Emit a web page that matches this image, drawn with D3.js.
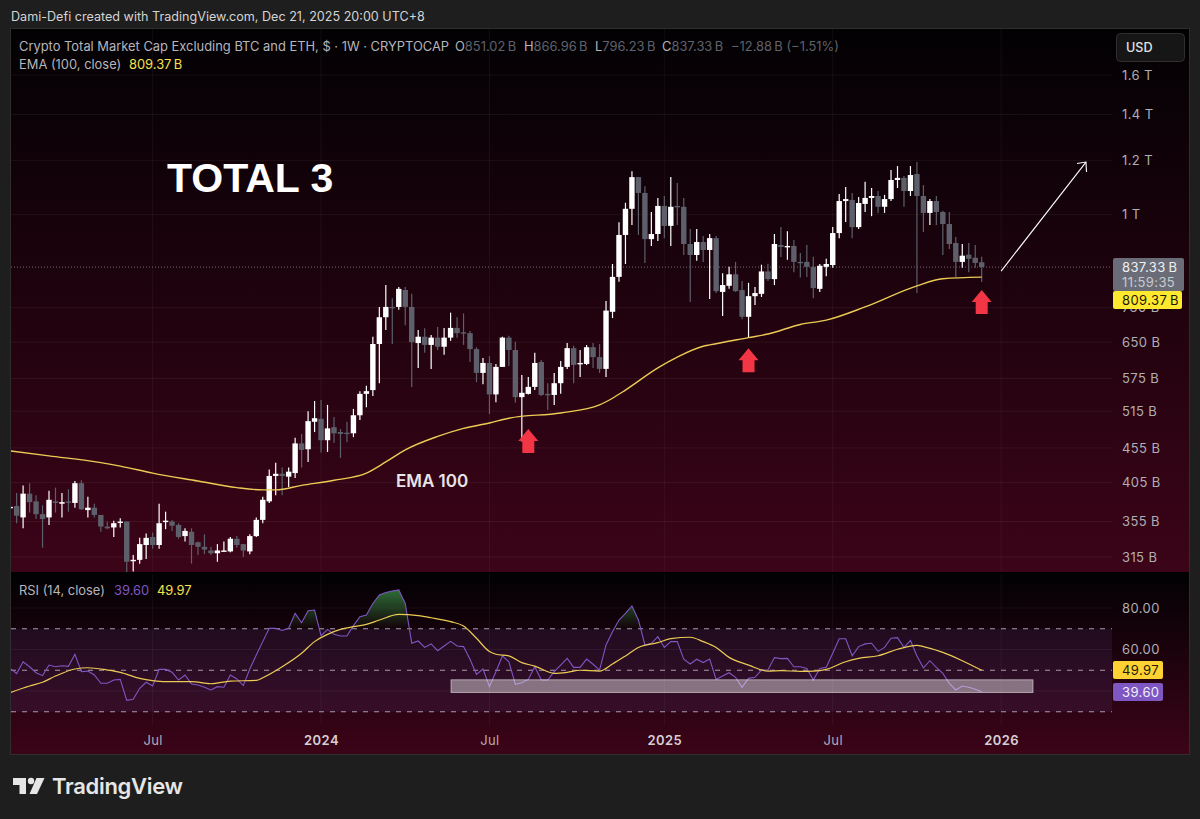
<!DOCTYPE html>
<html>
<head>
<meta charset="utf-8">
<script src="https://cdn.jsdelivr.net/npm/d3@7"></script>
<style>
  html, body { margin: 0; padding: 0; background: #1e1e1e; }
  text { font-family: "Inter", "Liberation Sans", sans-serif; }
  .axis text { font-size: 13px; fill: #b0aeb3; letter-spacing: 0.4px; }
  .axis path, .axis line { display: none; }
</style>
</head>
<body>
<script>
// weekly candles in billions USD, first week is 2023-01-30
var opens = [372,374,360,390,380,364,360,380,377,380,378,404,369,372,363,349,348,354,355,311,312,328,337,328,355,355,351,338,343,331,326,322,319,321,321,335,329,321,338,357,380,414,417,413,418,462,453,497,502,467,488,480,479,478,508,546,553,646,707,732,732,775,732,648,662,644,660,640,660,682,672,670,635,586,606,545,598,660,633,540,546,559,608,546,544,566,598,637,604,604,639,618,594,720,810,933,1019,1134,1075,920,936,1029,962,1029,1026,905,872,911,887,923,770,786,817,775,708,759,765,825,804,902,896,899,852,852,838,778,838,843,939,1046,1050,958,1036,1057,1064,1026,1053,1123,1131,1082,1146,1064,1005,1046,1008,968,908,852,873,864,851.02];
var highs = [391,391,401,404,388,375,394,398,391,396,407,408,386,377,363,355,356,359,355,317,336,341,342,377,367,357,353,347,347,332,340,326,329,332,337,338,329,340,360,386,423,433,426,426,471,477,515,533,535,526,505,485,497,519,551,561,662,732,788,754,783,783,765,677,681,666,684,682,718,707,716,675,639,616,620,604,662,664,651,582,578,627,612,566,586,610,648,642,633,644,648,646,747,846,974,1040,1157,1134,1100,1008,1057,1064,1134,1112,1057,952,952,930,936,930,820,838,852,799,794,783,844,847,936,958,945,917,878,902,867,846,861,958,1071,1097,1075,1060,1116,1093,1082,1068,1161,1177,1138,1177,1193,1104,1053,1064,1012,1008,927,905,908,902,866.96];
var lows = [353,353,347,366,358,325,351,366,360,367,372,369,360,360,343,346,337,348,299,300,308,313,324,324,346,344,335,332,308,317,318,317,310,321,320,325,315,318,337,353,378,388,388,399,411,426,434,480,448,449,463,440,464,472,500,522,542,566,677,646,725,688,559,596,627,594,633,623,653,660,644,608,568,564,510,531,598,600,530,465,545,553,542,517,526,546,594,566,578,602,596,586,578,705,797,846,965,933,849,899,914,923,899,965,872,744,855,852,752,767,710,778,770,702,660,737,757,799,788,866,858,823,808,810,754,770,812,835,923,975,923,952,1008,994,1005,1005,1046,1093,1026,1064,767,942,965,965,872,890,810,835,823,835,796.23];
var closes = [373,362,390,379,364,358,382,378,379,379,404,370,372,363,349,347,353,355,310,312,329,336,328,353,356,350,337,344,328,326,323,319,322,322,335,328,322,338,357,382,414,417,414,420,462,452,498,503,467,486,478,477,478,508,546,551,646,707,732,730,778,732,650,662,644,660,640,660,682,670,670,635,586,606,545,598,660,633,540,548,559,606,544,544,566,598,637,602,606,639,618,594,723,810,933,1019,1134,1075,920,936,1029,962,1026,1026,905,872,911,887,923,772,788,817,772,708,759,767,825,804,905,896,899,852,849,838,780,841,846,939,1046,1053,958,1039,1057,1064,1026,1053,1123,1131,1082,1142,1064,1005,1046,1008,968,905,852,870,861,849,837.33];

// EMA 100, as [week number, billions]
var emaWeeks = [0,6,14,17,22,29,35,39,41,45,50,55,58,61,66,70,74,77,85,91,93,95,100,103,107,108,114,117,122,126,132,140,144,150];
var emaValues = [450.5,443,433,428,418,407,398,395,395,401,408,418,434,452,473,486,495,503,512,526,538,553,596,618,641,644,660,668,690,700,732,786,805,809.37];

// RSI (14) for every week, and its moving average read as [week number, value]
var rsiValues = [50.9,48.4,54.1,51.7,48.8,47.4,52.5,51.7,52.2,51.9,57.7,49.3,49.6,47.7,43.7,43.7,45.3,45.6,35.5,36,41.3,44.2,42.4,50.4,50.4,49,45.3,47.7,43.4,42.9,41.8,40.5,42.1,41.8,47.7,45.8,42.6,50.6,57.3,63.8,70.2,70.2,69.2,70.2,77.4,72.9,78.7,79,66.7,69.7,67.3,66.5,66.5,71.5,75.8,76.6,82.2,86.3,87.5,88.2,88.7,82.2,63,64.1,61,62.7,59.4,61.7,63.9,61.7,61.4,55.3,48,50.6,42.1,49.3,56.9,54.1,43.2,44,45.6,51.7,45.3,45.3,49.3,52.5,55.7,51.4,51.4,55.4,52.9,50.1,62.2,68.6,74.2,77.4,81,74.2,62.2,63,66.2,61,63.8,63.8,55.3,53,55.3,53.7,55.4,45.6,47.2,48.8,46.6,41.8,46.1,46.6,50.1,50.1,56.1,55.6,55.7,51.7,51.7,50.9,45.3,50.9,51.4,58.2,65.2,65.2,57,61.4,62.7,63,59.1,61,65.4,65.7,61,64.3,56.9,51.2,54.6,51.4,48.5,43.7,40.5,42.4,41.8,40.8,39.6];
var rsiMaWeeks = [0,3,5,7,10,12,15,17,20,22,24,28,31,34,38,39,42,45,47,49,51,53,55,57,60,63,65,68,70,72,74,75,77,79,81,84,86,88,91,93,95,97,100,102,105,107,109,111,114,117,119,122,124,126,129,131,134,137,140,141,144,147,150];
var rsiMaValues = [39.2,42.4,44.2,47.2,50.6,51.2,50.1,49,46.1,45,44.5,44.5,43.5,44.8,45.1,46.4,51.7,58.2,63.8,67.3,69.7,71,72.1,74.2,76.9,76.3,75.3,73.4,71.3,65.4,59,57.7,56.9,53.7,52,48.5,49,50,49.6,53,56.9,61,63.3,65.2,65.9,63.8,61,56.2,52.5,49.6,49.8,49.5,49.6,50.4,54.1,55.7,57,60.1,62,61.4,58.6,54.6,49.97];

var priceTicks = [1600,1400,1200,1000,730,650,575,515,455,405,355,315];
var priceTickLabels = ["1.6 T","1.4 T","1.2 T","1 T","730 B","650 B","575 B","515 B","455 B","405 B","355 B","315 B"];
var rsiTicks = [80,60];
var rsiLevels = [70,50,30];
var timeTicks = ["2023-07-03","2024-01-01","2024-07-01","2025-01-06","2025-07-07","2026-01-05"];
var timeTickLabels = ["Jul","2024","Jul","2025","Jul","2026"];

// red arrows [week number, billions at the tip]
var redArrows = [[80,485],[114,637],[150,775]];
// white arrow [week number, billions] start and end
var targetArrow = [[153,826],[166.1,1193]];

var W = 1200, H = 819;
var left = 11, right = 1112, panelRight = 1189;
var priceTop = 29, priceBottom = 572, rsiTop = 574, panelBottom = 754;

var weekMs = 7 * 24 * 3600 * 1000;
var firstWeek = Date.UTC(2023, 0, 30);
function weekDate(i) { return new Date(firstWeek + i * weekMs); }

var x = d3.scaleUtc().domain([weekDate(0), weekDate(150)]).range([10.15, 981.7]);
var y = d3.scaleLog().domain([315, 1600]).range([557, 75]);
var r = d3.scaleLinear().domain([30, 80]).range([711.75, 608]);

var svg = d3.select("body").append("svg")
    .attr("width", W).attr("height", H)
    .style("display", "block");

var defs = svg.append("defs");

function paneGradient(id, y1, y2) {
  var g = defs.append("linearGradient").attr("id", id)
      .attr("gradientUnits", "userSpaceOnUse")
      .attr("x1", 0).attr("x2", 0).attr("y1", y1).attr("y2", y2);
  g.append("stop").attr("offset", "0%").attr("stop-color", "#020103");
  g.append("stop").attr("offset", "100%").attr("stop-color", "#3c0418");
}
paneGradient("pricePane", priceTop, priceBottom);
paneGradient("rsiPane", rsiTop, panelBottom);

var greenFill = defs.append("linearGradient").attr("id", "greenFill")
    .attr("gradientUnits", "userSpaceOnUse")
    .attr("x1", 0).attr("x2", 0).attr("y1", r(90)).attr("y2", r(70));
greenFill.append("stop").attr("offset", "0%").attr("stop-color", "#3f9a4a").attr("stop-opacity", 0.75);
greenFill.append("stop").attr("offset", "100%").attr("stop-color", "#3f9a4a").attr("stop-opacity", 0);

defs.append("clipPath").attr("id", "priceClip").append("rect")
    .attr("x", left).attr("y", priceTop).attr("width", right - left).attr("height", priceBottom - priceTop);
defs.append("clipPath").attr("id", "rsiClip").append("rect")
    .attr("x", left).attr("y", rsiTop).attr("width", right - left).attr("height", panelBottom - rsiTop);
defs.append("clipPath").attr("id", "above70").append("rect")
    .attr("x", left).attr("y", rsiTop).attr("width", right - left).attr("height", r(70) - rsiTop);

// header
svg.append("text").attr("x", 11).attr("y", 21)
    .attr("fill", "#d4d4d4").style("font-size", "12.6px")
    .text("Dami-Defi created with TradingView.com, Dec 21, 2025 20:00 UTC+8");

// panes
svg.append("rect").attr("x", left - 0.5).attr("y", priceTop - 0.5)
    .attr("width", panelRight - left + 1).attr("height", panelBottom - priceTop + 1)
    .attr("fill", "#000").attr("stroke", "#2e2e2e");
svg.append("rect").attr("x", left).attr("y", priceTop)
    .attr("width", panelRight - left).attr("height", priceBottom - priceTop)
    .attr("fill", "url(#pricePane)");
svg.append("rect").attr("x", left).attr("y", rsiTop)
    .attr("width", panelRight - left).attr("height", panelBottom - rsiTop)
    .attr("fill", "url(#rsiPane)");

// price grid
var price = svg.append("g").attr("clip-path", "url(#priceClip)");
price.selectAll(".hgrid").data(priceTicks).enter().append("line")
    .attr("x1", left).attr("x2", right)
    .attr("y1", function(d) { return y(d); }).attr("y2", function(d) { return y(d); })
    .attr("stroke", "rgba(255,255,255,0.06)");
price.selectAll(".vgrid").data(timeTicks).enter().append("line")
    .attr("x1", function(d) { return x(new Date(d)); }).attr("x2", function(d) { return x(new Date(d)); })
    .attr("y1", priceTop).attr("y2", priceBottom)
    .attr("stroke", "rgba(255,255,255,0.05)");

// last price line
price.append("line")
    .attr("x1", left).attr("x2", right)
    .attr("y1", y(closes[150])).attr("y2", y(closes[150]))
    .attr("stroke", "#6f6c72").attr("stroke-dasharray", "1 2");

// candles
var weeks = d3.range(opens.length);
function candleColor(i) { return closes[i] >= opens[i] ? "#ffffff" : "#5d606b"; }
price.selectAll(".wick").data(weeks).enter().append("line")
    .attr("x1", function(i) { return x(weekDate(i)); })
    .attr("x2", function(i) { return x(weekDate(i)); })
    .attr("y1", function(i) { return y(highs[i]); })
    .attr("y2", function(i) { return y(lows[i]); })
    .attr("stroke", candleColor).attr("stroke-width", 1.2);
price.selectAll(".body").data(weeks).enter().append("rect")
    .attr("x", function(i) { return x(weekDate(i)) - 2.7; })
    .attr("width", 5.4)
    .attr("y", function(i) { return y(Math.max(opens[i], closes[i])); })
    .attr("height", function(i) { return Math.max(1.4, Math.abs(y(opens[i]) - y(closes[i]))); })
    .attr("fill", candleColor);

// EMA
var emaLine = d3.line()
    .x(function(d, i) { return x(weekDate(emaWeeks[i])); })
    .y(function(d) { return y(d); })
    .curve(d3.curveMonotoneX);
price.append("path").attr("d", emaLine(emaValues))
    .attr("fill", "none").attr("stroke", "#eccb55").attr("stroke-width", 1.4);

// annotations
price.selectAll(".redArrow").data(redArrows).enter().append("path")
    .attr("transform", function(d) { return "translate(" + x(weekDate(d[0])) + "," + y(d[1]) + ")"; })
    .attr("d", "M0,0L10,12L6,12L6,24L-6,24L-6,12L-10,12Z")
    .attr("fill", "#f23645");

var ax = x(weekDate(targetArrow[1][0])), ay = y(targetArrow[1][1]);
price.append("line")
    .attr("x1", x(weekDate(targetArrow[0][0]))).attr("y1", y(targetArrow[0][1]))
    .attr("x2", ax).attr("y2", ay)
    .attr("stroke", "#ffffff").attr("stroke-width", 1.1);
price.append("path")
    .attr("d", "M" + (ax - 9) + "," + (ay + 1.5) + "L" + ax + "," + ay + "L" + (ax + 0.5) + "," + (ay + 10))
    .attr("fill", "none").attr("stroke", "#ffffff").attr("stroke-width", 1.1);

svg.append("text").attr("x", 167).attr("y", 192)
    .attr("fill", "#ffffff")
    .style("font-family", "'Liberation Sans'").style("font-weight", 700).style("font-size", "41px")
    .text("TOTAL 3");
svg.append("text").attr("x", 396).attr("y", 487)
    .attr("fill", "#e9e4e6")
    .style("font-weight", 600).style("font-size", "17px")
    .text("EMA 100");

// legend
var legend = svg.append("g").style("font-size", "12.9px");
legend.append("text").attr("x", 19).attr("y", 51).attr("fill", "#b5b5ba")
    .text("Crypto Total Market Cap Excluding BTC and ETH, $ \u00b7 1W \u00b7 CRYPTOCAP");
var ohlc = [["O", "851.02\u202fB", 455], ["H", "866.96\u202fB", 524], ["L", "796.23\u202fB", 595], ["C", "837.33\u202fB", 662]];
ohlc.forEach(function(d) {
  var t = legend.append("text").attr("x", d[2]).attr("y", 51);
  t.append("tspan").attr("fill", "#b5b5ba").text(d[0]);
  t.append("tspan").attr("fill", "#5f626c").text(d[1]);
});
legend.append("text").attr("x", 731).attr("y", 51).attr("fill", "#5f626c")
    .text("\u221212.88\u202fB (\u22121.51%)");
legend.append("text").attr("x", 19).attr("y", 69).attr("fill", "#b5b5ba").text("EMA (100, close)");
legend.append("text").attr("x", 129).attr("y", 69).attr("fill", "#f5e050").text("809.37\u202fB");

// USD button
svg.append("rect").attr("x", 1116.5).attr("y", 33.5).attr("width", 68).attr("height", 28).attr("rx", 4)
    .attr("fill", "#161616").attr("stroke", "#2f2f2f");
svg.append("text").attr("x", 1126).attr("y", 52).attr("fill", "#e0e0e0")
    .style("font-size", "12.6px").style("font-weight", 500).text("USD");

// price axis
var priceAxis = d3.axisRight(y).tickValues(priceTicks).tickSize(0).tickPadding(10)
    .tickFormat(function(d, i) { return priceTickLabels[i]; });
svg.append("g").attr("class", "axis").attr("transform", "translate(" + right + ",0)").call(priceAxis);

// price tags
function priceTag(x0, x1, y0, y1, fill) {
  svg.append("rect").attr("x", x0).attr("y", y0).attr("width", x1 - x0).attr("height", y1 - y0)
      .attr("rx", 2).attr("fill", fill);
}
priceTag(1113, 1184, 258, 291, "#6a6d78");
priceTag(1113, 1182, 291, 309, "#ffe92e");
svg.append("text").attr("x", 1122).attr("y", 272).attr("fill", "#f0f0f2")
    .style("font-size", "13px").style("letter-spacing", "0.4px").text("837.33\u202fB");
svg.append("text").attr("x", 1122).attr("y", 287).attr("fill", "#c9cad0")
    .style("font-size", "13px").style("letter-spacing", "0.4px").text("11:59:35");
svg.append("text").attr("x", 1122).attr("y", 305).attr("fill", "#1c1a08")
    .style("font-size", "13px").style("letter-spacing", "0.4px").text("809.37\u202fB");

// RSI pane
var rsiPane = svg.append("g").attr("clip-path", "url(#rsiClip)");
rsiPane.append("rect").attr("x", left).attr("width", right - left)
    .attr("y", r(70)).attr("height", r(30) - r(70))
    .attr("fill", "#7e57c2").attr("opacity", 0.12);
rsiPane.selectAll(".rgrid").data([80, 60, 40]).enter().append("line")
    .attr("x1", left).attr("x2", right)
    .attr("y1", function(d) { return r(d); }).attr("y2", function(d) { return r(d); })
    .attr("stroke", "rgba(255,255,255,0.05)");
rsiPane.selectAll(".vgrid").data(timeTicks).enter().append("line")
    .attr("x1", function(d) { return x(new Date(d)); }).attr("x2", function(d) { return x(new Date(d)); })
    .attr("y1", rsiTop).attr("y2", 725)
    .attr("stroke", "rgba(255,255,255,0.05)");
rsiPane.selectAll(".level").data(rsiLevels).enter().append("line")
    .attr("x1", left).attr("x2", right)
    .attr("y1", function(d) { return r(d); }).attr("y2", function(d) { return r(d); })
    .attr("stroke", "#a59da8").attr("stroke-dasharray", "5 6");

var rsiArea = d3.area()
    .x(function(d, i) { return x(weekDate(i)); })
    .y0(r(70))
    .y1(function(d) { return r(d); });
rsiPane.append("path").attr("d", rsiArea(rsiValues))
    .attr("fill", "url(#greenFill)").attr("clip-path", "url(#above70)");

var rsiLine = d3.line()
    .x(function(d, i) { return x(weekDate(i)); })
    .y(function(d) { return r(d); });
rsiPane.append("path").attr("d", rsiLine(rsiValues))
    .attr("fill", "none").attr("stroke", "#7e57c2").attr("stroke-width", 1.1);

var rsiMaLine = d3.line()
    .x(function(d, i) { return x(weekDate(rsiMaWeeks[i])); })
    .y(function(d) { return r(d); })
    .curve(d3.curveMonotoneX);
rsiPane.append("path").attr("d", rsiMaLine(rsiMaValues))
    .attr("fill", "none").attr("stroke", "#eccb55").attr("stroke-width", 1.2);

// support bar drawn on the RSI pane
svg.append("rect").attr("x", 451).attr("y", r(45.4)).attr("width", 582).attr("height", 12.7)
    .attr("fill", "rgba(255,255,255,0.42)").attr("stroke", "rgba(255,255,255,0.5)");

svg.append("text").attr("x", 19).attr("y", 595).style("font-size", "12.9px").attr("fill", "#b5b5ba").text("RSI (14, close)");
svg.append("text").attr("x", 114).attr("y", 595).style("font-size", "12.9px").attr("fill", "#7e57c2").text("39.60");
svg.append("text").attr("x", 157).attr("y", 595).style("font-size", "12.9px").attr("fill", "#f5e050").text("49.97");

// RSI axis and tags
var rsiAxis = d3.axisRight(r).tickValues(rsiTicks).tickSize(0).tickPadding(10).tickFormat(d3.format(".2f"));
svg.append("g").attr("class", "axis").attr("transform", "translate(" + right + ",0)").call(rsiAxis);
priceTag(1113, 1163, 661, 679, "#ffd234");
priceTag(1113, 1163, 683, 701, "#7e57c2");
svg.append("text").attr("x", 1122).attr("y", 675).attr("fill", "#241c08")
    .style("font-size", "13px").style("letter-spacing", "0.4px").text("49.97");
svg.append("text").attr("x", 1122).attr("y", 697).attr("fill", "#f2effa")
    .style("font-size", "13px").style("letter-spacing", "0.4px").text("39.60");

// time axis
var timeAxis = d3.axisBottom(x).tickValues(timeTicks.map(function(d) { return new Date(d); }))
    .tickSize(0).tickPadding(6)
    .tickFormat(function(d, i) { return timeTickLabels[i]; });
var timeG = svg.append("g").attr("class", "axis").attr("transform", "translate(0,730)").call(timeAxis);
timeG.selectAll("text")
    .style("font-weight", function(d, i) { return timeTickLabels[i] === "Jul" ? 400 : 600; })
    .style("fill", function(d, i) { return timeTickLabels[i] === "Jul" ? "#b5adb3" : "#d6d0d4"; });

// TradingView mark
var logo = svg.append("g").attr("fill", "#e6e6e6");
logo.append("path").attr("d", "M13,778H26V794H19.5V785H13Z");
logo.append("circle").attr("cx", 31).attr("cy", 781).attr("r", 3.2);
logo.append("path").attr("d", "M36.5,778H44.5L37,794H29.5Z");
logo.append("text").attr("x", 52).attr("y", 794).attr("fill", "#e6e6e6")
    .style("font-size", "22px").style("font-weight", 600).style("letter-spacing", "-0.3px")
    .text("TradingView");
</script>
</body>
</html>
